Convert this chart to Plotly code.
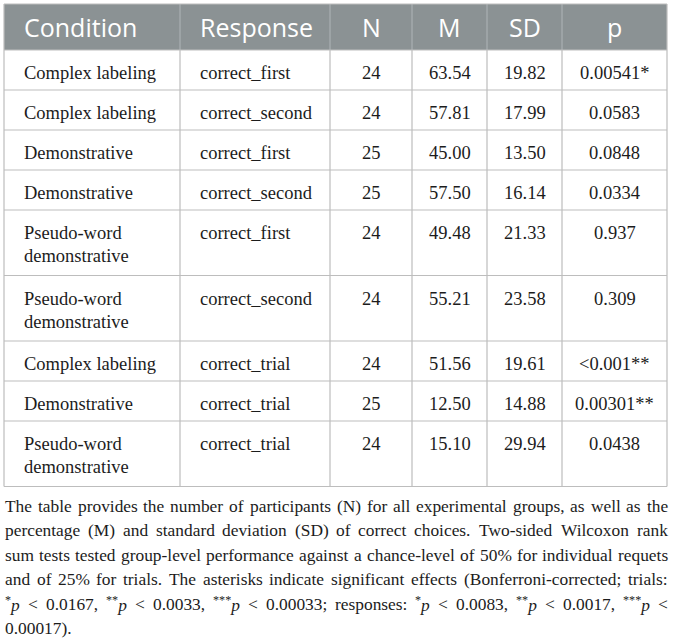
import plotly.graph_objects as go

# ---------------- data ----------------
conditions = ["Complex labeling", "Complex labeling", "Demonstrative", "Demonstrative",
              "Pseudo-word demonstrative", "Pseudo-word demonstrative",
              "Complex labeling", "Demonstrative", "Pseudo-word demonstrative"]
responses = ["correct_first", "correct_second", "correct_first", "correct_second",
             "correct_first", "correct_second", "correct_trial", "correct_trial", "correct_trial"]
n_vals = [24, 24, 25, 25, 24, 24, 24, 25, 24]
m_vals = [63.54, 57.81, 45.00, 57.50, 49.48, 55.21, 51.56, 12.50, 15.10]
sd_vals = [19.82, 17.99, 13.50, 16.14, 21.33, 23.58, 19.61, 14.88, 29.94]
p_vals = ["0.00541*", "0.0583", "0.0848", "0.0334", "0.937", "0.309",
          "<0.001**", "0.00301**", "0.0438"]
headers = ["Condition", "Response", "N", "M", "SD", "p"]

caption_lines = [
    "The table provides the number of participants (N) for all experimental groups, as well as the",
    "percentage (M) and standard deviation (SD) of correct choices. Two-sided Wilcoxon rank",
    "sum tests tested group-level performance against a chance-level of 50% for individual requets",
    "and of 25% for trials. The asterisks indicate significant effects (Bonferroni-corrected; trials:",
    "*p < 0.0167, **p < 0.0033, ***p < 0.00033; responses: *p < 0.0083, **p < 0.0017, ***p <",
    "0.00017).",
]

# ---------------- layout constants ----------------
W, H = 673, 643
X0, X1 = 4, 667
TOP = 4
HEADER_H = 46
ROW_H = 40
EXTRA_LINE_H = 25.5
col_widths = [176, 150, 82, 75, 75, 105]
col_align = ["left", "left", "center", "center", "center", "center"]
PAD_L = 18.5
HEADER_FILL = "#8b9294"
HEADER_SEP = "#aab0b2"
LINE = "#bdbdbd"
TEXT = "#1c1c1c"
BODY_FONT = "Liberation Serif"
BODY_FS = 18.5
HEAD_FONT = "Open Sans"
HEAD_FS = 25
LINE_STEP = 23.3

# Times / Liberation Serif advance widths (1/1000 em)
TW = {' ': 250, '(': 333, ')': 333, '*': 500, ',': 250, '-': 333, '.': 250, ':': 278,
      ';': 278, '<': 564, '%': 833, '_': 500,
      'A': 722, 'B': 667, 'C': 667, 'D': 722, 'E': 611, 'F': 556, 'G': 722, 'H': 722,
      'I': 333, 'J': 389, 'K': 722, 'L': 611, 'M': 889, 'N': 722, 'O': 722, 'P': 556,
      'Q': 722, 'R': 667, 'S': 556, 'T': 611, 'U': 722, 'V': 722, 'W': 944, 'X': 722,
      'Y': 722, 'Z': 611,
      'a': 444, 'b': 500, 'c': 444, 'd': 500, 'e': 444, 'f': 333, 'g': 500, 'h': 500,
      'i': 278, 'j': 278, 'k': 500, 'l': 278, 'm': 778, 'n': 500, 'o': 500, 'p': 500,
      'q': 500, 'r': 333, 's': 389, 't': 278, 'u': 500, 'v': 500, 'w': 722, 'x': 500,
      'y': 500, 'z': 444}
for d in "0123456789":
    TW[d] = 500


def px(x):
    return x / W


def py(y):
    return 1 - y / H


def text_units(s):
    return sum(TW.get(ch, 500) for ch in s)


def wrap(s, width_px, fs):
    words = s.split(" ")
    lines, cur = [], ""
    for w in words:
        trial = (cur + " " + w) if cur else w
        if text_units(trial) * fs / 1000 <= width_px or not cur:
            cur = trial
        else:
            lines.append(cur)
            cur = w
    lines.append(cur)
    return lines


def esc(s):
    return s.replace("<", "&lt;")


# column boundaries
col_x = [X0]
for cw in col_widths:
    col_x.append(col_x[-1] + cw)

# body cell texts (built from data arrays)
cols_text = [
    conditions,
    responses,
    [str(v) for v in n_vals],
    [f"{v:.2f}" for v in m_vals],
    [f"{v:.2f}" for v in sd_vals],
    p_vals,
]
n_rows = len(conditions)
cell_lines = [[wrap(cols_text[c][r], col_widths[c] - 2 * PAD_L, BODY_FS) for c in range(6)]
              for r in range(n_rows)]

# row boundaries
row_y = [TOP, TOP + HEADER_H]
for r in range(n_rows):
    nl = max(len(cl) for cl in cell_lines[r])
    row_y.append(row_y[-1] + ROW_H + (nl - 1) * EXTRA_LINE_H)
BOTTOM = row_y[-1]

shapes = []
# header background
shapes.append(dict(type="rect", xref="paper", yref="paper", layer="below",
                   x0=px(X0), x1=px(X1), y0=py(TOP), y1=py(TOP + HEADER_H),
                   fillcolor=HEADER_FILL, line=dict(width=0)))
# header separators
for xx in col_x[1:-1]:
    shapes.append(dict(type="line", xref="paper", yref="paper",
                       x0=px(xx), x1=px(xx), y0=py(TOP), y1=py(TOP + HEADER_H),
                       line=dict(color=HEADER_SEP, width=1.2)))
# body vertical lines
for xx in col_x:
    shapes.append(dict(type="line", xref="paper", yref="paper",
                       x0=px(xx), x1=px(xx), y0=py(TOP + HEADER_H), y1=py(BOTTOM),
                       line=dict(color=LINE, width=1.2)))
# outer header edges
for xx in (col_x[0], col_x[-1]):
    shapes.append(dict(type="line", xref="paper", yref="paper",
                       x0=px(xx), x1=px(xx), y0=py(TOP), y1=py(TOP + HEADER_H),
                       line=dict(color=LINE, width=1.2)))
# horizontal lines
for yy in row_y:
    shapes.append(dict(type="line", xref="paper", yref="paper",
                       x0=px(X0), x1=px(X1), y0=py(yy), y1=py(yy),
                       line=dict(color=LINE, width=1.2)))

annotations = []


def cell_ann(text, c, yc, font):
    if col_align[c] == "left":
        x, anchor = col_x[c] + PAD_L, "left"
    else:
        x, anchor = (col_x[c] + col_x[c + 1]) / 2, "center"
    annotations.append(dict(x=px(x), y=py(yc), xref="paper", yref="paper",
                            xanchor=anchor, yanchor="middle", showarrow=False,
                            text=esc(text), borderpad=0, font=font))


head_font = dict(family=HEAD_FONT, size=HEAD_FS, color="white")
for c, h in enumerate(headers):
    cell_ann(h, c, TOP + 22.5, head_font)

body_font = dict(family=BODY_FONT, size=BODY_FS, color=TEXT)
for r in range(n_rows):
    top = row_y[r + 1]
    for c in range(6):
        for k, ln in enumerate(cell_lines[r][c]):
            cell_ann(ln, c, top + 23 + k * LINE_STEP, body_font)

# ---------------- caption (justified) ----------------


def word_units(w):
    stars = len(w) - len(w.lstrip("*"))
    if stars and w[stars:stars + 1] == "p":
        return stars * 500 * 0.7 + 500 + text_units(w[stars + 1:])
    return text_units(w)


avail = X1 - X0
max_units = max(sum(word_units(w) for w in ln.split(" ")) + 250 * (len(ln.split(" ")) - 1)
                for ln in caption_lines[:-1])
FS = 0.985 * avail * 1000 / max_units


def word_html(w):
    stars = len(w) - len(w.lstrip("*"))
    if stars and w[stars:stars + 1] == "p":
        return ("<sup style=\"font-size:%.1fpx\">" % (0.7 * FS) + "*" * stars + "</sup>"
                + "<i style=\"font-size:%.1fpx\">p</i>" % FS + esc(w[stars + 1:]))
    return esc(w)


Y_FIRST = BOTTOM + 20
LSP = 24.4
cap_font = dict(family=BODY_FONT, size=FS, color=TEXT)
for i, ln in enumerate(caption_lines):
    words = ln.split(" ")
    yc = Y_FIRST + i * LSP
    widths = [word_units(w) * FS / 1000 for w in words]
    if i < len(caption_lines) - 1 and len(words) > 1:
        gap = (avail - sum(widths)) / (len(words) - 1)
    else:
        gap = 250 * FS / 1000
    x = X0
    for w, wd in zip(words, widths):
        annotations.append(dict(
            x=px(x), y=py(yc), xref="paper", yref="paper",
            xanchor="left", yanchor="middle", showarrow=False,
            text=word_html(w), borderpad=0, font=cap_font,
        ))
        x += wd + gap

fig = go.Figure()
fig.update_layout(
    width=W, height=H,
    margin=dict(l=0, r=0, t=0, b=0),
    paper_bgcolor="white", plot_bgcolor="white",
    xaxis=dict(visible=False), yaxis=dict(visible=False),
    shapes=shapes,
    annotations=annotations,
)

fig.write_html("out.html", config={"displayModeBar": False},
               post_script="document.body.style.margin='0';")
